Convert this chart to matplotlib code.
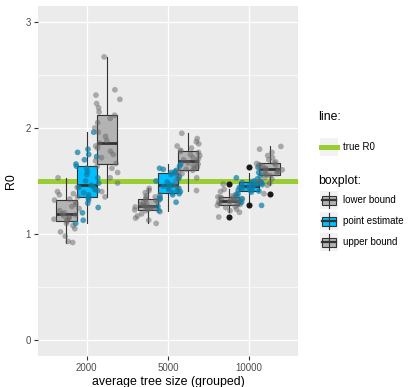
import numpy as np
import matplotlib
matplotlib.use('Agg')
import matplotlib.pyplot as plt
from matplotlib.patches import Rectangle
from matplotlib.lines import Line2D

plt.rcParams['font.family'] = ['Liberation Sans', 'DejaVu Sans']

# ---------------- data ----------------
groups = ['2000', '5000', '10000']
series = ['lower bound', 'point estimate', 'upper bound']
true_r0 = 1.5

lower_2000 = [0.92, 0.93, 0.98, 1.02, 1.05, 1.08, 1.10, 1.12, 1.13, 1.14, 1.15, 1.16, 1.17, 1.18,
              1.19, 1.20, 1.22, 1.24, 1.26, 1.28, 1.30, 1.32, 1.33, 1.35, 1.37, 1.38, 1.40, 1.44, 1.53]
point_2000 = [1.10, 1.13, 1.20, 1.25, 1.29, 1.32, 1.34, 1.35, 1.37, 1.39, 1.41, 1.42, 1.44, 1.45,
              1.46, 1.48, 1.50, 1.53, 1.56, 1.59, 1.62, 1.64, 1.66, 1.70, 1.73, 1.75, 1.77, 1.80, 1.96]
upper_2000 = [1.35, 1.40, 1.48, 1.53, 1.58, 1.62, 1.64, 1.665, 1.69, 1.72, 1.75, 1.78, 1.81, 1.83,
              1.855, 1.88, 1.92, 1.96, 2.00, 2.05, 2.09, 2.12, 2.15, 2.19, 2.23, 2.27, 2.31, 2.36, 2.67]

lower_5000 = [1.10, 1.13, 1.15, 1.17, 1.19, 1.21, 1.22, 1.227, 1.235, 1.24, 1.245, 1.25, 1.255, 1.26,
              1.268, 1.275, 1.285, 1.295, 1.305, 1.315, 1.325, 1.33, 1.34, 1.35, 1.36, 1.37, 1.39, 1.41, 1.43]
point_5000 = [1.22, 1.26, 1.30, 1.33, 1.35, 1.37, 1.38, 1.39, 1.40, 1.41, 1.42, 1.43, 1.44, 1.45,
              1.46, 1.47, 1.49, 1.50, 1.52, 1.54, 1.56, 1.577, 1.58, 1.59, 1.60, 1.61, 1.62, 1.64, 1.66]
upper_5000 = [1.41, 1.45, 1.50, 1.53, 1.55, 1.57, 1.59, 1.60, 1.61, 1.62, 1.63, 1.645, 1.66, 1.67,
              1.687, 1.70, 1.71, 1.72, 1.74, 1.75, 1.77, 1.78, 1.79, 1.81, 1.83, 1.85, 1.87, 1.90, 1.95]

lower_10000 = [1.16, 1.205, 1.22, 1.235, 1.25, 1.26, 1.27, 1.277, 1.28, 1.29, 1.295, 1.30, 1.305, 1.31,
               1.315, 1.32, 1.325, 1.33, 1.335, 1.34, 1.343, 1.346, 1.35, 1.36, 1.37, 1.38, 1.40, 1.42, 1.47]
point_10000 = [1.27, 1.30, 1.33, 1.36, 1.38, 1.395, 1.405, 1.41, 1.415, 1.42, 1.43, 1.435, 1.44, 1.45,
               1.457, 1.46, 1.465, 1.47, 1.475, 1.48, 1.485, 1.488, 1.495, 1.50, 1.52, 1.53, 1.55, 1.58, 1.63]
upper_10000 = [1.38, 1.46, 1.48, 1.50, 1.52, 1.535, 1.55, 1.558, 1.565, 1.57, 1.58, 1.59, 1.60, 1.605,
               1.611, 1.62, 1.63, 1.64, 1.65, 1.655, 1.665, 1.67, 1.68, 1.70, 1.72, 1.74, 1.77, 1.80, 1.826]

data = {
    '2000': [lower_2000, point_2000, upper_2000],
    '5000': [lower_5000, point_5000, upper_5000],
    '10000': [lower_10000, point_10000, upper_10000],
}

# ---------------- style ----------------
box_fill = ['#B3B3B3', '#00BFFF', '#B3B3B3']
pt_color = ['#666666', '#0E7FA8', '#666666']
pt_alpha = [0.5, 0.72, 0.5]
green = '#9ACD32'
bg = '#EBEBEB'
W, H = 410, 387
fig = plt.figure(figsize=(W / 100, H / 100), dpi=100)
ax = fig.add_axes([38 / W, 1 - 356 / H, (298 - 38) / W, (356 - 6) / H])
ax.set_facecolor(bg)
ax.set_xlim(0.4, 3.6)
ax.set_ylim(-0.15, 3.15)

for y in [0.5, 1.5, 2.5]:
    ax.axhline(y, color='white', lw=0.45, zorder=0.5)
for y in [0, 1, 2, 3]:
    ax.axhline(y, color='white', lw=0.9, zorder=0.6)
for x in [1, 2, 3]:
    ax.axvline(x, color='white', lw=0.9, zorder=0.6)

ax.axhline(true_r0, color=green, lw=3.6, zorder=1)


def jitter(n, seed):
    # deterministic scatter of horizontal offsets (a drawing effect, like geom_jitter)
    i = np.arange(n) + 1.0
    u = np.sin(i * 12.9898 + seed * 78.233) * 43758.5453
    return (u - np.floor(u) - 0.5) * 0.32


dodge = 0.25
for gi, g in enumerate(groups):
    for si in range(3):
        vals = np.array(data[g][si])
        pos = gi + 1 + (si - 1) * dodge
        ax.boxplot([vals], positions=[pos], widths=0.25, patch_artist=True, whis=1.5,
                   showcaps=False, manage_ticks=False,
                   boxprops=dict(facecolor=box_fill[si], edgecolor='#333333', lw=0.8),
                   medianprops=dict(color='#333333', lw=2.0),
                   whiskerprops=dict(color='#333333', lw=0.8),
                   flierprops=dict(marker='o', markerfacecolor='#1A1A1A', markeredgecolor='none',
                                   markersize=4.4),
                   zorder=2)
        off = jitter(len(vals), gi * 3 + si + 1)
        ax.scatter(pos + off, vals, s=17, color=pt_color[si], alpha=pt_alpha[si],
                   edgecolors='none', zorder=3)

ax.set_xticks([1, 2, 3])
ax.set_xticklabels(groups)
ax.set_yticks([0, 1, 2, 3])
ax.tick_params(axis='both', colors='#333333', labelcolor='#4D4D4D', labelsize=7,
               length=3, width=0.8, pad=2)
for s in ax.spines.values():
    s.set_visible(False)
ax.set_xlabel('average tree size (grouped)', fontsize=8.9, color='black', labelpad=2)
ax.set_ylabel('R0', fontsize=8.9, color='black', labelpad=6)

# ---------------- legend ----------------
lax = fig.add_axes([0, 0, 1, 1])
lax.set_xlim(0, W)
lax.set_ylim(H, 0)
lax.axis('off')
lax.patch.set_visible(False)

lax.text(318, 117, 'line:', fontsize=8.8, va='center', ha='left')
lax.add_patch(Rectangle((320, 138), 18, 18, facecolor='#F2F2F2', edgecolor='none'))
lax.add_line(Line2D([321, 337], [147, 147], color=green, lw=3.6))
lax.text(343, 147, 'true R0', fontsize=7, va='center', ha='left')

lax.text(318, 181, 'boxplot:', fontsize=8.8, va='center', ha='left')
for si, (lab, yc) in enumerate(zip(series, [200, 221, 242])):
    lax.add_patch(Rectangle((320, yc - 9), 18, 18, facecolor='#F2F2F2', edgecolor='none'))
    lax.add_line(Line2D([329, 329], [yc - 8, yc + 8], color='#333333', lw=0.8))
    lax.add_patch(Rectangle((322, yc - 4.5), 14, 9, facecolor=box_fill[si],
                            edgecolor='#333333', lw=0.8))
    lax.add_line(Line2D([322, 336], [yc, yc], color='#333333', lw=1.6))
    lax.text(343, yc, lab, fontsize=7, va='center', ha='left')

fig.savefig('out.png', dpi=100)
